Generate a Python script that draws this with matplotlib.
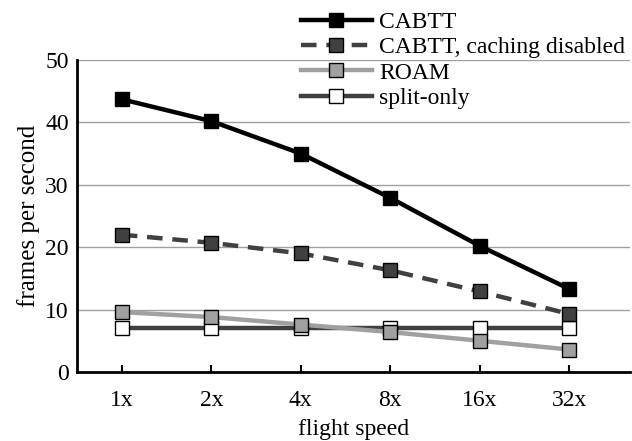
import matplotlib
matplotlib.use('Agg')
import matplotlib.pyplot as plt
from matplotlib.legend_handler import HandlerLine2D
import numpy as np


SPEEDS = ['1x', '2x', '4x', '8x', '16x', '32x']
CABTT = [43.7, 40.2, 35.0, 27.9, 20.2, 13.3]
CABTT_NOCACHE = [22.0, 20.7, 19.0, 16.3, 12.9, 9.3]
ROAM = [9.6, 8.8, 7.6, 6.4, 5.0, 3.6]
SPLIT_ONLY = [7.0, 7.0, 7.0, 7.0, 7.0, 7.0]


class MarkerAtEnd(HandlerLine2D):
    # legend line with the marker sitting on its right end
    def get_xdata(self, legend, xdescent, ydescent, width, height, fontsize):
        xdata = np.array([-xdescent, width - xdescent])
        return xdata, np.array([width - xdescent])


def main():
    plt.rcParams['font.family'] = ['Liberation Serif', 'DejaVu Serif']
    plt.rcParams['font.size'] = 17

    fig = plt.figure(figsize=(6.32, 4.41), dpi=100)
    ax = fig.add_axes([0.122, 0.1565, 0.875, 0.7075])
    x = np.arange(len(SPEEDS))

    split, = ax.plot(x, SPLIT_ONLY, color='#404040', lw=3.2, marker='s', ms=10,
                     mfc='white', mec='black', mew=1, label='split-only', zorder=3)
    roam, = ax.plot(x, ROAM, color='#a0a0a0', lw=3.2, marker='s', ms=10,
                    mfc='#a0a0a0', mec='black', mew=1, label='ROAM', zorder=4)
    nocache, = ax.plot(x, CABTT_NOCACHE, color='#404040', lw=3.2, ls=(0, (3.5, 2.2)),
                       marker='s', ms=10, mfc='#404040', mec='black', mew=1,
                       label='CABTT, caching disabled', zorder=5)
    cabtt, = ax.plot(x, CABTT, color='black', lw=3.2, marker='s', ms=10,
                     mfc='black', mec='black', mew=1, label='CABTT', zorder=6)

    ax.set_xlim(-0.5, len(SPEEDS) - 0.32)
    ax.set_ylim(0, 50)
    ax.set_yticks(range(0, 51, 10))
    ax.set_xticks(x)
    ax.set_xticklabels(SPEEDS)
    ax.yaxis.grid(True, color='#a0a0a0', lw=1)
    ax.set_axisbelow(True)
    ax.tick_params(axis='y', length=0, pad=6)
    ax.tick_params(axis='x', direction='in', length=5, width=1.5, pad=13)
    for side in ['top', 'right']:
        ax.spines[side].set_visible(False)
    for side in ['left', 'bottom']:
        ax.spines[side].set_linewidth(2)

    ax.set_xlabel('flight speed', labelpad=6)
    ax.set_ylabel('frames per second', labelpad=4, fontsize=18)

    handles = [cabtt, nocache, roam, split]
    fig.legend(handles=handles, labels=[h.get_label() for h in handles],
               loc='upper left', bbox_to_anchor=(0.465, 0.99), frameon=False,
               handlelength=3.0, handletextpad=0.3, labelspacing=0.16,
               borderaxespad=0, borderpad=0.3,
               handler_map={h: MarkerAtEnd() for h in handles})

    fig.savefig('out.png', dpi=100)


if __name__ == '__main__':
    main()
